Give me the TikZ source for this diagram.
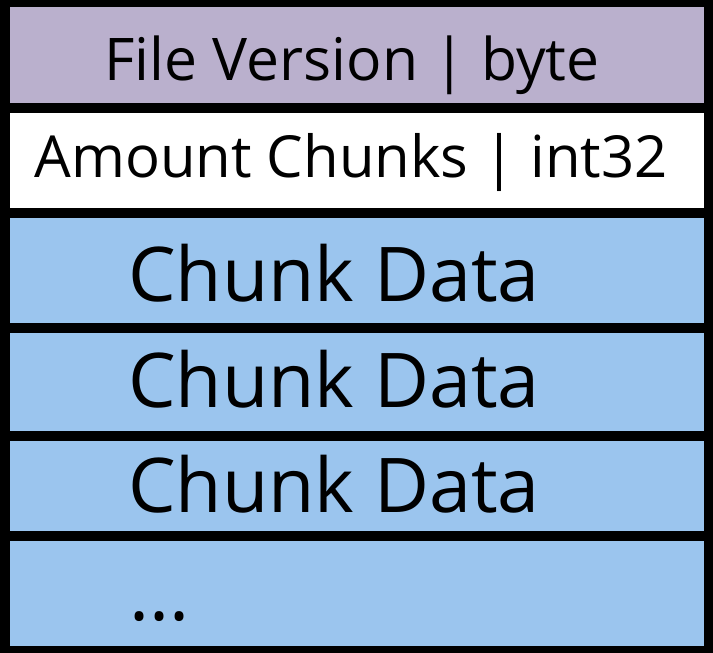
\documentclass[tikz,border=0pt]{standalone}
\usepackage{fontspec}
\setmainfont{Open Sans}
\usepackage{tikz}

\definecolor{versionpurple}{HTML}{BAB0CD}
\definecolor{chunkblue}{HTML}{9BC5EE}

\begin{document}
\begin{tikzpicture}[x=1pt,y=-1pt,
    sep/.style={line width=10pt},
    field/.style={inner sep=0pt,anchor=base,
      font=\fontsize{58.8}{70}\selectfont},
    chunk/.style={inner sep=0pt,anchor=base west,
      font=\fontsize{75.5}{90}\selectfont}]
  \useasboundingbox (0,0) rectangle (713,653);
  % row backgrounds
  \fill[versionpurple] (0,0) rectangle (713,107.5);
  \fill[white] (0,107.5) rectangle (713,213);
  \fill[chunkblue] (0,213) rectangle (713,653);
  % header fields
  \node[field] (version) at (352,80) {File Version | byte};
  \node[field, font=\fontsize{58}{70}\selectfont] (amount) at (351,177) {Amount Chunks | int32};
  % chunks
  \node[chunk] (chunk1) at (128,301) {Chunk Data};
  \node[chunk] (chunk2) at (128,407) {Chunk Data};
  \node[chunk] (chunk3) at (128,512) {Chunk Data};
  \node[chunk] (more) at (129,620) {...};
  % separators
  \draw[sep] (0,107.5) -- (713,107.5);
  \draw[sep] (0,213) -- (713,213);
  \draw[sep] (0,328) -- (713,328);
  \draw[sep] (0,435.5) -- (713,435.5);
  \draw[sep] (0,535.5) -- (713,535.5);
  \draw[sep] (5,2) rectangle (709,651);
\end{tikzpicture}
\end{document}
